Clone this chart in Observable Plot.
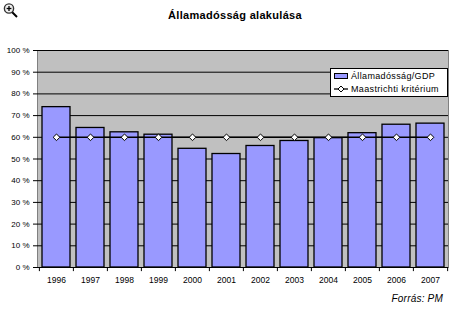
<!DOCTYPE html>
<html>
<head>
<meta charset="utf-8">
<script src="https://cdn.jsdelivr.net/npm/d3@7"></script>
<script src="https://cdn.jsdelivr.net/npm/@observablehq/plot@0.6"></script>
<style>
  html, body { margin: 0; padding: 0; background: #fff; }
  #wrap { position: relative; width: 458px; height: 319px; font-family: "Liberation Sans", Arial, sans-serif; }
  #title { position: absolute; left: 0; width: 470px; top: 9px; text-align: center; font-weight: bold; font-size: 11px; letter-spacing: 0.3px; }
  #source { position: absolute; right: 15px; top: 293px; font-style: italic; font-size: 10px; letter-spacing: 0.2px; }
  #legend { position: absolute; left: 330px; top: 68px; width: 116px; height: 27px; background: #fff; border: 1px solid #000; font-size: 9px; letter-spacing: 0.35px; }
  #legend .row { position: absolute; left: 3px; height: 12px; display: flex; align-items: center; white-space: nowrap; }
  #legend svg { margin-right: 2px; }
  #icon { position: absolute; left: 3px; top: 2px; }
  #chart { position: absolute; left: 0; top: 0; }
</style>
</head>
<body>
<div id="wrap">
  <svg id="icon" width="16" height="17" viewBox="0 0 16 17">
    <line x1="8.5" y1="9.5" x2="14" y2="15" stroke="#000" stroke-width="2"/>
    <circle cx="6" cy="6.5" r="4.6" fill="#f0f0f0" stroke="#333" stroke-width="1.4"/>
    <line x1="3.6" y1="6.5" x2="8.4" y2="6.5" stroke="#000" stroke-width="1.3"/>
    <line x1="6" y1="4.1" x2="6" y2="8.9" stroke="#000" stroke-width="1.3"/>
  </svg>
  <div id="chart"></div>
  <div id="title">Államadósság alakulása</div>
  <div id="legend"></div>
  <div id="source">Forrás: PM</div>
</div>
<script>
const years = ["1996","1997","1998","1999","2000","2001","2002","2003","2004","2005","2006","2007"];
const debtGDP = [73.9, 64.3, 62.3, 61.2, 54.7, 52.3, 56.0, 58.3, 59.6, 61.9, 65.8, 66.3];
const maastricht = [60, 60, 60, 60, 60, 60, 60, 60, 60, 60, 60, 60];
const yTicks = [0, 10, 20, 30, 40, 50, 60, 70, 80, 90, 100];
const seriesNames = ["Államadósság/GDP", "Maastrichti kritérium"];

const W = 458, H = 319, mL = 37, mR = 10, mT = 50, mB = 52;
const step = (W - mL - mR) / years.length;

const bars = years.map((y, i) => ({year: y, value: debtGDP[i]}));
const crit = years.map((y, i) => ({year: y, value: maastricht[i]}));
const tickData = years.map((y, i) => ({year: y}));

const chart = Plot.plot({
  width: W, height: H,
  marginLeft: mL, marginRight: mR, marginTop: mT, marginBottom: mB,
  style: {fontFamily: "Liberation Sans, Arial, sans-serif", background: "transparent"},
  x: {domain: years, paddingInner: 0.18, paddingOuter: 0.09, label: null},
  y: {domain: [0, 100], label: null},
  marks: [
    Plot.frame({fill: "#c0c0c0", stroke: "#808080"}),
    Plot.ruleY(yTicks, {stroke: "#000", strokeWidth: 1}),
    Plot.barY(bars, {x: "year", y: "value", fill: "#9999ff", stroke: "#000", strokeWidth: 1.3}),
    Plot.ruleX(tickData, {x: "year", y1: 0, y2: -1.9, dx: -step / 2, stroke: "#000"}),
    Plot.ruleX(tickData.slice(-1), {x: "year", y1: 0, y2: -1.9, dx: step / 2, stroke: "#000"}),
    Plot.ruleY([0], {stroke: "#000"}),
    Plot.line(crit, {x: "year", y: "value", stroke: "#000", strokeWidth: 1.5}),
    Plot.dot(crit, {x: "year", y: "value", symbol: "diamond2", r: 3, fill: "#fff", stroke: "#000", strokeWidth: 1}),
    Plot.axisY({ticks: yTicks, tickFormat: d => d + " %", tickSize: 4, tickPadding: 4, fontSize: 8, line: true, fill: "#000"}),
    Plot.axisX({tickSize: 0, tickPadding: 9, fontSize: 8.5, fill: "#000"})
  ]
});
document.getElementById("chart").appendChild(chart);

const legend = document.getElementById("legend");
legend.innerHTML = `
  <div class="row" style="top:1px">
    <svg width="15" height="8"><rect x="0.5" y="1.5" width="13" height="5" fill="#9999ff" stroke="#000" stroke-width="1"/></svg>${seriesNames[0]}
  </div>
  <div class="row" style="top:14px">
    <svg width="15" height="8"><line x1="0" y1="4" x2="14" y2="4" stroke="#000" stroke-width="1.3"/><path d="M7 1 L10 4 L7 7 L4 4 Z" fill="#fff" stroke="#000" stroke-width="1"/></svg>${seriesNames[1]}
  </div>`;
</script>
</body>
</html>
